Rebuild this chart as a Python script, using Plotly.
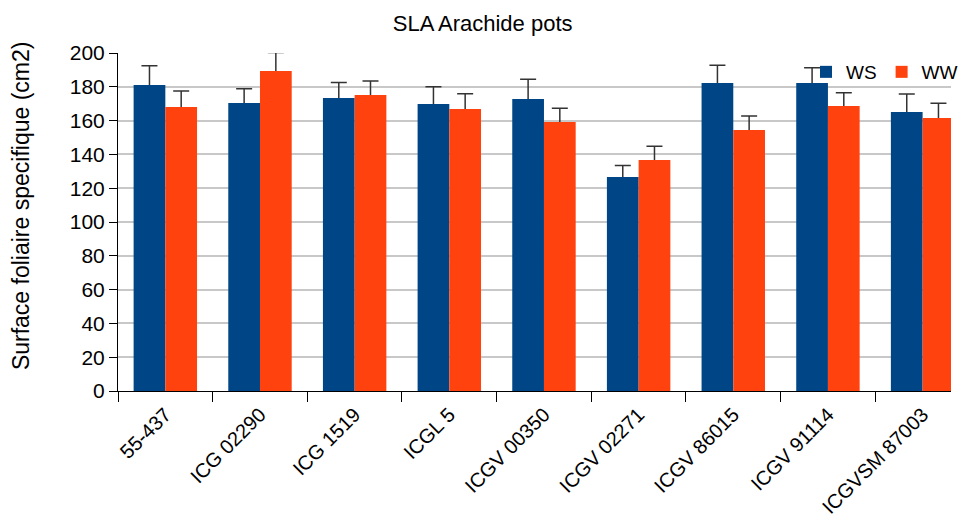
import plotly.graph_objects as go

# genotypes
categories = ["55-437", "ICG 02290", "ICG 1519", "ICGL 5", "ICGV 00350",
              "ICGV 02271", "ICGV 86015", "ICGV 91114", "ICGVSM 87003"]

# SLA values (cm2) and upper error bars
ws_values = [181, 170.4, 173.4, 169.8, 172.8, 126.6, 182.2, 182.2, 165.1]
ws_err = [11.5, 8.5, 9.2, 10.2, 11.6, 6.9, 10.5, 9.1, 10.6]
ww_values = [168, 189.3, 175.1, 166.9, 159.2, 136.7, 154.4, 168.6, 161.5]
ww_err = [9.5, 11, 8.3, 9, 8.1, 8.1, 8.3, 7.9, 8.7]

y_title = "Surface foliaire specifique (cm2)"

fig = go.Figure()

# error bars first, on transparent bars; the real bars drawn later hide the lower part
for vals, errs, grp in [(ws_values, ws_err, "ws"), (ww_values, ww_err, "ww")]:
    fig.add_trace(go.Bar(
        x=categories, y=vals, offsetgroup=grp, showlegend=False, hoverinfo="skip",
        marker=dict(color="rgba(0,0,0,0)", line_width=0),
        error_y=dict(type="data", symmetric=False, array=errs, arrayminus=vals,
                     color="#333333", thickness=1.5, width=8),
    ))

fig.add_trace(go.Bar(x=categories, y=ws_values, name="WS", offsetgroup="ws",
                     marker=dict(color="#004586", line_width=0)))
fig.add_trace(go.Bar(x=categories, y=ww_values, name="WW", offsetgroup="ww",
                     marker=dict(color="#ff420e", line_width=0)))

# y title as an annotation so it can sit a little above the plot centre
fig.add_annotation(
    text=y_title, textangle=-90, xref="paper", yref="paper",
    x=0, xanchor="center", xshift=-97, y=0.547, yanchor="middle",
    showarrow=False, font=dict(size=23),
)

# the page has an 8px body margin, so the figure is a bit smaller than the window
fig.update_layout(
    width=955, height=513,
    font=dict(family="Liberation Sans, Arial, sans-serif", color="#000000", size=19),
    title=dict(text="SLA Arachide pots", x=0.497, xanchor="center", y=0.97, yanchor="middle",
               font=dict(size=22)),
    barmode="group", bargap=0.33, bargroupgap=0,
    plot_bgcolor="white", paper_bgcolor="white",
    margin=dict(l=110, r=0, t=45, b=130),
    legend=dict(orientation="h", x=0.826, xanchor="left", y=1.0, yanchor="top",
                font=dict(size=19), bgcolor="rgba(0,0,0,0)", itemwidth=30,
                traceorder="normal", tracegroupgap=0),
    xaxis=dict(
        type="category", range=[-0.5, 8.3], tickangle=-45, tickson="boundaries",
        ticks="outside", ticklen=10, tickcolor="#000000", ticklabelstandoff=3,
        showline=True, linecolor="#000000", linewidth=1,
        showgrid=False, tickfont=dict(size=20), automargin=False,
    ),
    yaxis=dict(
        range=[0, 200], dtick=20, ticks="outside", ticklen=8, tickcolor="#000000",
        showline=True, linecolor="#000000", linewidth=1,
        showgrid=True, gridcolor="#c8c8c8", gridwidth=1.5, zeroline=False,
        tickfont=dict(size=21), automargin=False,
    ),
)

fig.write_html("out.html")
